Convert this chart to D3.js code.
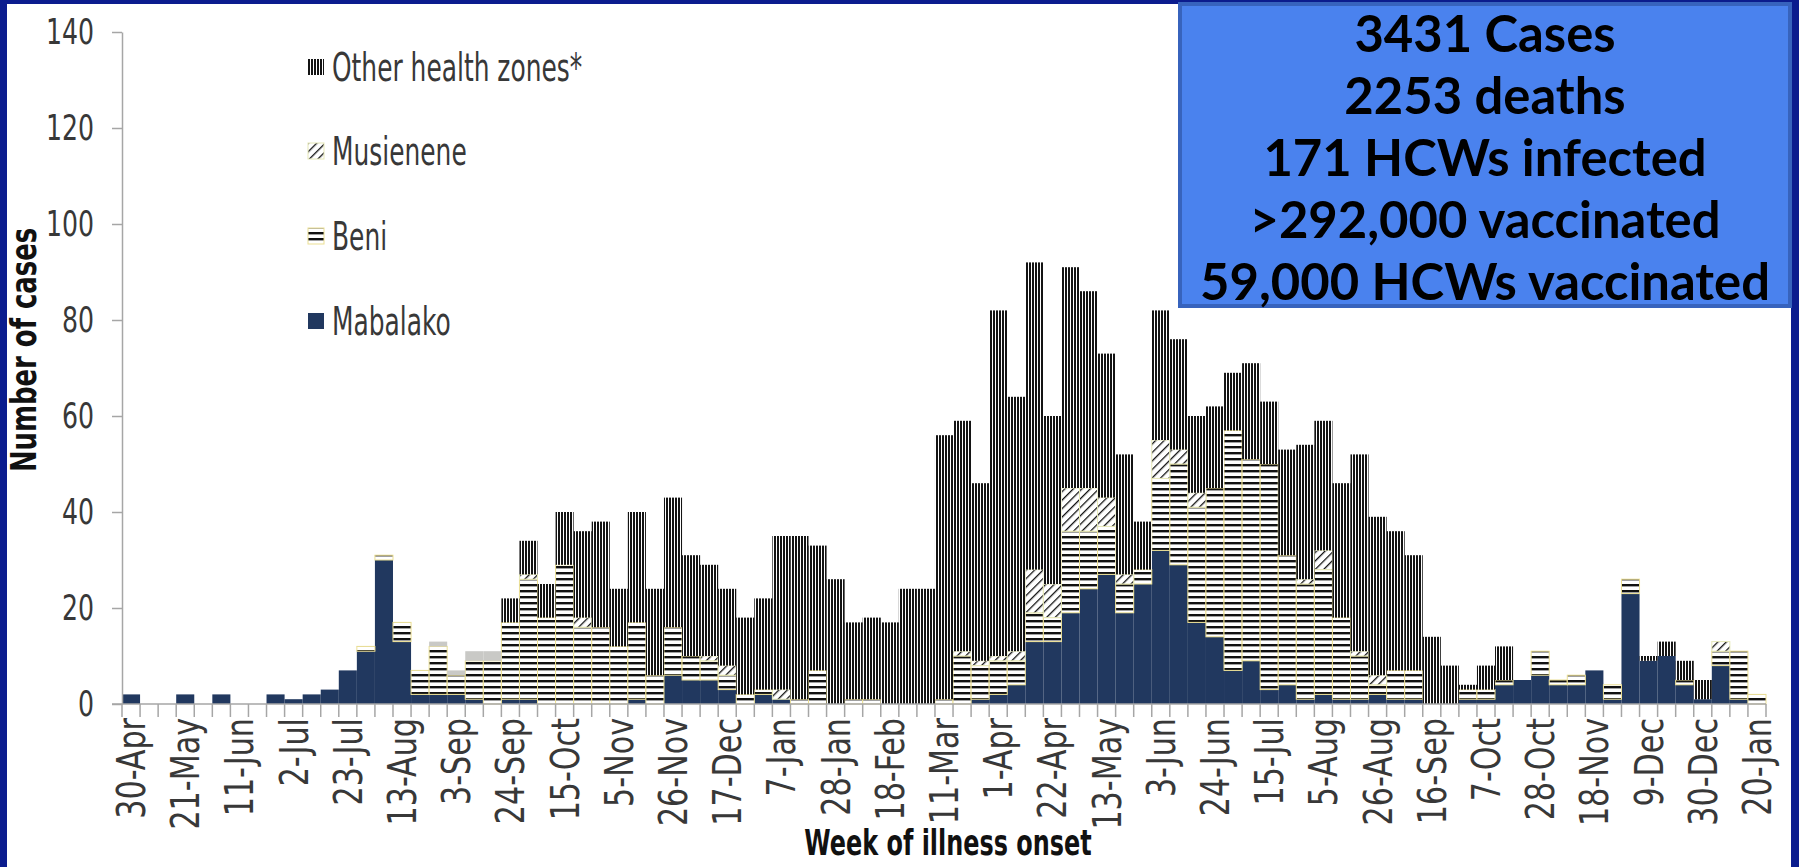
<!DOCTYPE html>
<html>
<head>
<meta charset="utf-8">
<script src="https://cdn.jsdelivr.net/npm/d3@7"></script>
<style>
  html, body { margin: 0; padding: 0; background: #0b1c8e; }
  svg { display: block; }
</style>
</head>
<body>
<div id="chart"></div>
<script>
// week of illness onset, one bar per week starting 30-Apr-2018
const tickLabels = ['30-Apr', '21-May', '11-Jun', '2-Jul', '23-Jul', '13-Aug', '3-Sep', '24-Sep', '15-Oct',
  '5-Nov', '26-Nov', '17-Dec', '7-Jan', '28-Jan', '18-Feb', '11-Mar', '1-Apr', '22-Apr', '13-May', '3-Jun',
  '24-Jun', '15-Jul', '5-Aug', '26-Aug', '16-Sep', '7-Oct', '28-Oct', '18-Nov', '9-Dec', '30-Dec', '20-Jan'];

const mabalako = [2, 0, 0, 2, 0, 2, 0, 0, 2, 1, 2, 3, 7, 11, 30, 13, 2, 2, 2, 1,
  0, 1, 1, 0, 0, 0, 0, 0, 1, 0, 6, 5, 5, 3, 0, 2, 1, 0, 0, 0,
  0, 0, 0, 0, 0, 0, 0, 1, 2, 4, 13, 13, 19, 24, 27, 19, 25, 32, 29, 17,
  14, 7, 9, 3, 4, 1, 2, 1, 1, 2, 1, 1, 0, 0, 1, 1, 4, 5, 6, 4,
  4, 7, 1, 23, 9, 10, 4, 1, 8, 1, 0];
const beni = [0, 0, 0, 0, 0, 0, 0, 0, 0, 0, 0, 0, 0, 1, 1, 4, 5, 10, 4, 8,
  9, 16, 25, 18, 29, 16, 16, 12, 16, 6, 10, 5, 4, 3, 2, 1, 0, 1, 7, 0,
  1, 1, 0, 0, 0, 1, 10, 7, 7, 5, 6, 5, 17, 12, 10, 6, 3, 15, 21, 24,
  31, 50, 42, 47, 27, 24, 26, 17, 9, 2, 6, 6, 0, 0, 2, 2, 1, 0, 5, 1,
  2, 0, 3, 3, 0, 0, 1, 0, 3, 10, 2];
const musienene = [0, 0, 0, 0, 0, 0, 0, 0, 0, 0, 0, 0, 0, 0, 0, 0, 0, 0, 0, 0,
  0, 0, 1, 0, 0, 2, 0, 0, 0, 0, 0, 0, 1, 2, 0, 0, 2, 0, 0, 0,
  0, 0, 0, 0, 0, 0, 1, 1, 1, 2, 9, 7, 9, 9, 6, 2, 0, 8, 3, 3,
  0, 0, 0, 0, 0, 1, 4, 0, 1, 2, 0, 0, 0, 0, 0, 0, 0, 0, 0, 0,
  0, 0, 0, 0, 0, 0, 0, 0, 2, 0, 0];
// light grey bars with no legend entry
const unassigned = [0, 0, 0, 0, 0, 0, 0, 0, 0, 0, 0, 0, 0, 0, 0, 0, 0, 1, 1, 2,
  2, 0, 0, 0, 0, 0, 0, 0, 0, 0, 0, 0, 0, 0, 0, 0, 0, 0, 0, 0,
  0, 0, 0, 0, 0, 0, 0, 0, 0, 0, 0, 0, 0, 0, 0, 0, 0, 0, 0, 0,
  0, 0, 0, 0, 0, 0, 0, 0, 0, 0, 0, 0, 0, 0, 0, 0, 0, 0, 0, 0,
  0, 0, 0, 0, 0, 0, 0, 0, 0, 0, 0];
const other = [0, 0, 0, 0, 0, 0, 0, 0, 0, 0, 0, 0, 0, 0, 0, 0, 0, 0, 0, 0,
  0, 5, 7, 7, 11, 18, 22, 12, 23, 18, 27, 21, 19, 16, 16, 19, 32, 34, 26, 26,
  16, 17, 17, 24, 24, 55, 48, 37, 72, 53, 64, 35, 46, 41, 30, 25, 10, 27, 23, 16,
  17, 12, 20, 13, 22, 28, 27, 28, 41, 33, 29, 24, 14, 8, 1, 5, 7, 0, 0, 0,
  0, 0, 0, 0, 1, 3, 4, 4, 0, 0, 0];

const yTicks = [0, 20, 40, 60, 80, 100, 120, 140];
const summary = ['3431 Cases', '2253 deaths', '171 HCWs infected', '>292,000 vaccinated', '59,000 HCWs vaccinated'];

const series = [
  { key: 'mabalako', name: 'Mabalako', values: mabalako, fill: '#21385f', stroke: 'none' },
  { key: 'beni', name: 'Beni', values: beni, fill: 'url(#horiz)', stroke: '#ebdf93' },
  { key: 'musienene', name: 'Musienene', values: musienene, fill: 'url(#diag)', stroke: '#e6e8b8' },
  { key: 'unassigned', name: null, values: unassigned, fill: '#c9c9c6', stroke: 'none' },
  { key: 'other', name: 'Other health zones*', values: other, fill: 'url(#vert)', stroke: 'none' }
];

const W = 1799, H = 867;
const narrow = '"DejaVu Sans Condensed", "Liberation Sans", sans-serif';

function renderChart() {
  const weeks = d3.range(mabalako.length);
  const rows = weeks.map(i => {
    const r = { week: i };
    series.forEach(s => { r[s.key] = s.values[i]; });
    return r;
  });
  const stacked = d3.stack().keys(series.map(s => s.key))(rows);

  const x = d3.scaleBand().domain(weeks).range([122, 1766]).padding(0);
  const y = d3.scaleLinear().domain([0, 140]).range([704, 32]);

  const svg = d3.select('#chart').append('svg')
    .attr('width', W)
    .attr('height', H);

  const defs = svg.append('defs');
  const vert = defs.append('pattern').attr('id', 'vert')
    .attr('patternUnits', 'userSpaceOnUse').attr('width', 3).attr('height', 8);
  vert.append('rect').attr('width', 3).attr('height', 8).attr('fill', '#fff');
  vert.append('rect').attr('width', 2).attr('height', 8).attr('fill', '#141414');

  const horiz = defs.append('pattern').attr('id', 'horiz')
    .attr('patternUnits', 'userSpaceOnUse').attr('width', 8).attr('height', 6);
  horiz.append('rect').attr('width', 8).attr('height', 6).attr('fill', '#fff');
  horiz.append('rect').attr('y', 2).attr('width', 8).attr('height', 2.4).attr('fill', '#111');

  const diag = defs.append('pattern').attr('id', 'diag')
    .attr('patternUnits', 'userSpaceOnUse').attr('width', 6).attr('height', 6)
    .attr('patternTransform', 'rotate(45)');
  diag.append('rect').attr('width', 6).attr('height', 6).attr('fill', '#fff');
  diag.append('rect').attr('width', 1.3).attr('height', 6).attr('fill', '#111');

  // slide frame
  svg.append('rect').attr('width', W).attr('height', H).attr('fill', '#0b1c8e');
  svg.append('rect').attr('x', 7).attr('y', 4).attr('width', W - 15).attr('height', H - 4).attr('fill', '#fff');

  // bars
  svg.append('g')
    .selectAll('g')
    .data(stacked)
    .join('g')
    .attr('fill', (d, i) => series[i].fill)
    .attr('stroke', (d, i) => series[i].stroke)
    .attr('stroke-width', 1)
    .selectAll('rect')
    .data(d => d.filter(p => p[1] > p[0]))
    .join('rect')
    .attr('x', d => x(d.data.week))
    .attr('width', x.bandwidth())
    .attr('y', d => y(d[1]))
    .attr('height', d => y(d[0]) - y(d[1]));

  // y axis
  const yAxis = svg.append('g')
    .attr('transform', `translate(${x.range()[0]},0)`)
    .call(d3.axisLeft(y).tickValues(yTicks).tickSize(10).tickSizeOuter(0).tickPadding(18));
  yAxis.selectAll('path, line').attr('stroke', '#a6a6a6').attr('stroke-width', 1.5);
  yAxis.selectAll('text')
    .attr('x', -28 / 0.8)
    .attr('transform', 'scale(0.8,1)')
    .attr('fill', '#383838')
    .style('font', `35px ${narrow}`);

  // x axis: baseline, a tick at every week boundary, label every 3rd week
  const xg = svg.append('g');
  xg.append('line')
    .attr('x1', x.range()[0] - 10).attr('x2', x.range()[1])
    .attr('y1', y(0)).attr('y2', y(0))
    .attr('stroke', '#a6a6a6').attr('stroke-width', 1.5);
  xg.selectAll('line.tick')
    .data(d3.range(weeks.length + 1))
    .join('line')
    .attr('class', 'tick')
    .attr('x1', i => x.range()[0] + i * x.bandwidth())
    .attr('x2', i => x.range()[0] + i * x.bandwidth())
    .attr('y1', y(0)).attr('y2', y(0) + 13)
    .attr('stroke', '#a6a6a6').attr('stroke-width', 1.5);
  xg.selectAll('text')
    .data(tickLabels)
    .join('text')
    .attr('transform', (d, i) => `translate(${x(i * 3) + x.bandwidth() / 2},${y(0) + 14}) rotate(-90) scale(0.86,1)`)
    .attr('dy', '0.36em')
    .attr('text-anchor', 'end')
    .attr('fill', '#383838')
    .style('font', `39px ${narrow}`)
    .text(d => d);

  // axis titles
  svg.append('text')
    .attr('transform', `translate(23,350) rotate(-90) scale(0.8,1)`)
    .attr('text-anchor', 'middle')
    .attr('dy', '0.35em')
    .attr('fill', '#111')
    .style('font', `bold 36px ${narrow}`)
    .text('Number of cases');
  svg.append('text')
    .attr('transform', 'translate(948,843) scale(0.76,1)')
    .attr('text-anchor', 'middle')
    .attr('dy', '0.35em')
    .attr('fill', '#111')
    .style('font', `bold 35px ${narrow}`)
    .text('Week of illness onset');

  // legend
  const legendRows = series.filter(s => s.name).reverse();
  const legend = svg.append('g')
    .selectAll('g')
    .data(legendRows)
    .join('g')
    .attr('transform', (d, i) => `translate(308,${[67, 151, 236, 321][i]})`);
  legend.append('rect')
    .attr('y', -8).attr('width', 16).attr('height', 16)
    .attr('fill', d => d.fill)
    .attr('stroke', d => d.stroke);
  legend.append('text')
    .attr('transform', 'translate(24,0) scale(0.71,1)')
    .attr('dy', '0.36em')
    .attr('fill', '#383838')
    .style('font', `39px ${narrow}`)
    .text(d => d.name);

  // summary box
  const box = svg.append('g');
  box.append('rect')
    .attr('x', 1180).attr('y', 4).attr('width', 610).attr('height', 302)
    .attr('fill', '#4a82ee').attr('stroke', '#3763bd').attr('stroke-width', 4);
  const lines = box.selectAll('text')
    .data(summary)
    .join('text')
    .attr('x', 1485)
    .attr('y', (d, i) => 34 + i * 62)
    .attr('dy', '0.35em')
    .attr('text-anchor', 'middle')
    .attr('fill', '#000')
    .style('font', 'bold 48px Lato, "Open Sans", sans-serif')
    .text(d => d);
  const widest = d3.max(lines.nodes(), n => n.getComputedTextLength());
  lines.style('font-size', `${48 * 570 / widest}px`);
}

renderChart();
</script>
</body>
</html>
